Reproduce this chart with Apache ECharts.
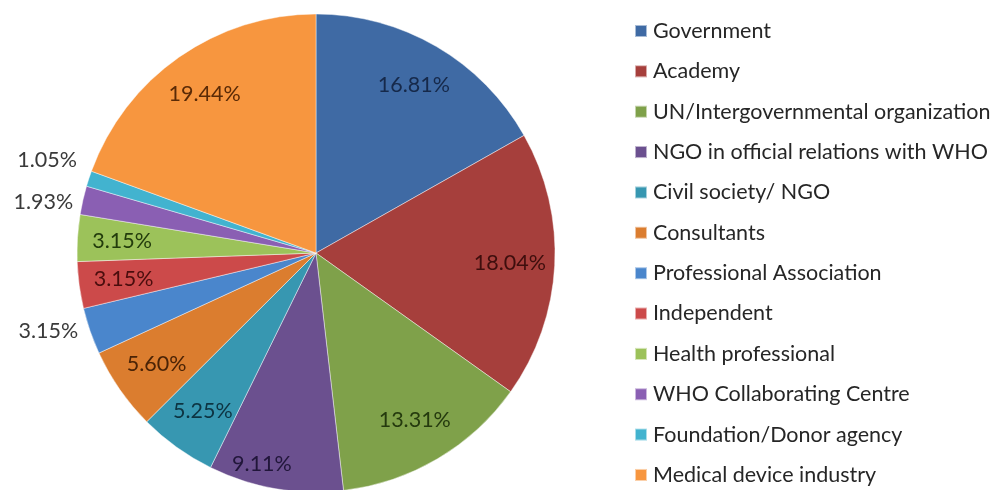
<!DOCTYPE html>
<html>
<head>
<meta charset="utf-8">
<script src="https://cdn.jsdelivr.net/npm/echarts@6/dist/echarts.min.js"></script>
<style>
  html, body { margin: 0; padding: 0; background: #fff; }
  #chart { width: 1008px; height: 490px; }
</style>
</head>
<body>
<div id="chart"></div>
<script>
// Respondent groups and their shares (%)
const categories = [
  'Government',
  'Academy',
  'UN/Intergovernmental organization',
  'NGO in official relations with WHO',
  'Civil society/ NGO',
  'Consultants',
  'Professional Association',
  'Independent',
  'Health professional',
  'WHO Collaborating Centre',
  'Foundation/Donor agency',
  'Medical device industry'
];
const shares = [16.81, 18.04, 13.31, 9.11, 5.25, 5.60, 3.15, 3.15, 3.15, 1.93, 1.05, 19.44];

// Slice fills and the darker tones used for labels placed on them
const palette = [
  '#3F6AA4', '#A63F3C', '#7FA14A', '#6B508F', '#3797B1', '#DB7D2F',
  '#4A86CC', '#CC4A4A', '#9CC25A', '#8A5FB3', '#42B3CF', '#F7963F'
];
const labelTones = [
  '#16294A', '#3E0E0D', '#253A0E', '#21163A', '#0D3442', '#4A2306',
  '#333333', '#4A0D0D', '#233C0C', '#333333', '#333333', '#5A2A06'
];
// Small slices get their label outside the pie
const outsideLabel = [false, false, false, false, false, false, true, false, false, true, true, false];
// Small label nudges [dx, dy] in pixels, by slice index
const labelNudge = { 3: [-21, 20], 10: [0, -18] };

const FONT = 'Lato';
const R = 239;
const CENTER = [316, 253];

const chart = echarts.init(document.getElementById('chart'), null, { renderer: 'canvas' });

const pieData = categories.map((name, i) => ({
  name,
  value: shares[i],
  itemStyle: { color: palette[i] }
}));

const labelData = categories.map((name, i) => ({
  name,
  value: shares[i],
  label: outsideLabel[i]
    ? { position: 'outside', color: '#3a3a3a' }
    : { position: 'inside', color: labelTones[i] }
}));

chart.setOption({
  backgroundColor: '#ffffff',
  animation: false,
  legend: {
    orient: 'vertical',
    left: 634,
    top: 20,
    height: 470,
    padding: 0,
    icon: 'rect',
    itemWidth: 12,
    itemHeight: 12,
    itemGap: 18.36,
    textStyle: {
      fontFamily: FONT,
      fontSize: 21.5,
      lineHeight: 21,
      color: '#262626',
      padding: [0, 0, 0, 1]
    },
    data: categories
  },
  series: [
    {
      // the slices
      type: 'pie',
      center: CENTER,
      radius: [0, R],
      startAngle: 90,
      clockwise: true,
      label: { show: false },
      labelLine: { show: false },
      itemStyle: { borderColor: 'rgba(255,255,255,0.55)', borderWidth: 0.8 },
      emphasis: { disabled: true },
      data: pieData
    },
    {
      // ring carrying the percentage labels at ~80% of the radius
      type: 'pie',
      center: CENTER,
      radius: [R * 0.6, R],
      startAngle: 90,
      clockwise: true,
      silent: true,
      avoidLabelOverlap: true,
      itemStyle: { color: 'rgba(0,0,0,0)', borderWidth: 0 },
      label: {
        show: true,
        fontFamily: FONT,
        fontSize: 21.5,
        formatter: p => p.value.toFixed(2) + '%'
      },
      labelLine: { show: false, length: 1, length2: 6 },
      labelLayout: params => {
        const n = labelNudge[params.dataIndex];
        return n ? { dx: n[0], dy: n[1] } : {};
      },
      emphasis: { disabled: true },
      data: labelData
    }
  ]
});
</script>
</body>
</html>
